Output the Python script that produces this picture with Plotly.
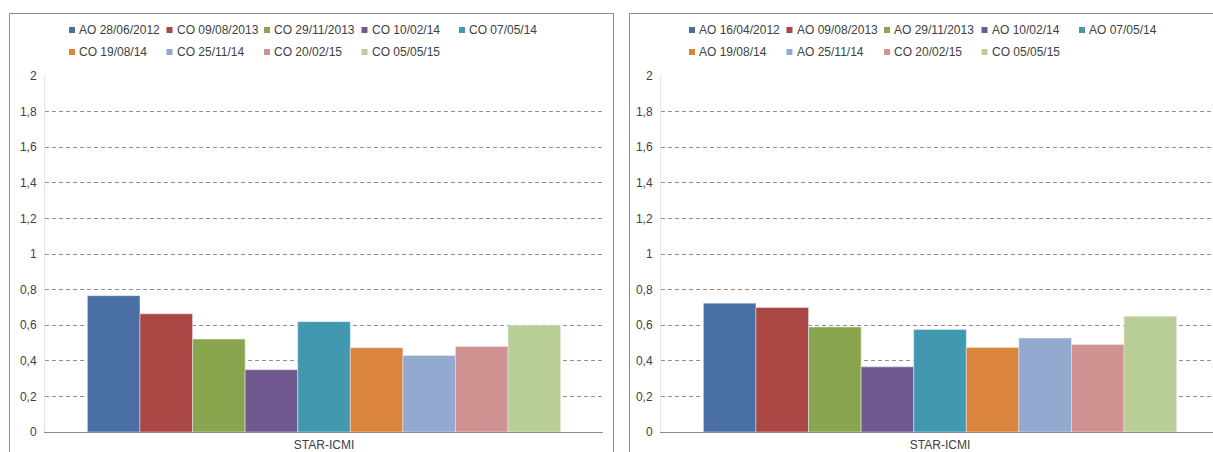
import plotly.graph_objects as go

category = ["STAR-ICMI"]

left_names = ["AO 28/06/2012", "CO 09/08/2013", "CO 29/11/2013", "CO 10/02/14", "CO 07/05/14",
              "CO 19/08/14", "CO 25/11/14", "CO 20/02/15", "CO 05/05/15"]
left_values = [0.766, 0.664, 0.522, 0.350, 0.620, 0.473, 0.430, 0.481, 0.600]

right_names = ["AO 16/04/2012", "AO 09/08/2013", "AO 29/11/2013", "AO 10/02/14", "AO 07/05/14",
               "AO 19/08/14", "AO 25/11/14", "CO 20/02/15", "CO 05/05/15"]
right_values = [0.724, 0.700, 0.590, 0.366, 0.576, 0.475, 0.528, 0.491, 0.650]

colors = ["#4A6FA5", "#AA4643", "#89A54E", "#71588F", "#4198AF",
          "#DB843D", "#93A9CF", "#D19392", "#B9CD96"]

y_ticks = [0, 0.2, 0.4, 0.6, 0.8, 1, 1.2, 1.4, 1.6, 1.8, 2]

W, H = 1213, 452
FONT = "Liberation Sans, Arial, sans-serif"
TXT = "#404040"


def px_x(p):
    return p / W


def px_y(p):
    return 1 - p / H


fig = go.Figure()
for name, val, col in zip(left_names, left_values, colors):
    fig.add_trace(go.Bar(x=category, y=[val], name=name, marker_color=col,
                         xaxis="x", yaxis="y", showlegend=False))
for name, val, col in zip(right_names, right_values, colors):
    fig.add_trace(go.Bar(x=category, y=[val], name=name, marker_color=col,
                         xaxis="x2", yaxis="y2", showlegend=False))

yax = dict(range=[0, 2], tickvals=y_ticks, showgrid=True, gridcolor="#8f8f8f",
           griddash="4px,3px", gridwidth=1, zeroline=False, showline=True,
           linecolor="#e4e4e4", ticks="", tickfont=dict(family=FONT, size=12, color=TXT),
           domain=[px_y(432), px_y(76)], ticklabelstandoff=5)
xax = dict(type="category", showgrid=False, zeroline=False, showline=True,
           linecolor="#8c8c8c", linewidth=1, ticks="", ticklabelstandoff=2,
           tickfont=dict(family=FONT, size=12, color=TXT))

# Legend drawn as small swatches + text, in two rows of an Excel-style grid
shapes = [
    dict(type="rect", xref="paper", yref="paper",
         x0=px_x(9.5), x1=px_x(613.5), y0=-0.05, y1=px_y(13.5),
         line=dict(color="#8c8c8c", width=1), fillcolor="rgba(0,0,0,0)", layer="below"),
    dict(type="rect", xref="paper", yref="paper",
         x0=px_x(629.5), x1=1.05, y0=-0.05, y1=px_y(13.5),
         line=dict(color="#8c8c8c", width=1), fillcolor="rgba(0,0,0,0)", layer="below"),
]
annotations = []
col_w = 97.5
row_y = [30, 52]
for names, x_start in ((left_names, 72), (right_names, 692)):
    for i, (name, col) in enumerate(zip(names, colors)):
        r, c = divmod(i, 5)
        cx = x_start + c * col_w
        cy = row_y[r]
        shapes.append(dict(type="rect", xref="paper", yref="paper",
                           x0=px_x(cx - 3), x1=px_x(cx + 3),
                           y0=px_y(cy + 3), y1=px_y(cy - 3),
                           fillcolor=col, line=dict(width=0)))
        annotations.append(dict(text=name, xref="paper", yref="paper",
                                x=px_x(cx + 5), y=px_y(cy), xanchor="left", yanchor="middle",
                                showarrow=False, font=dict(family=FONT, size=12, color=TXT)))

fig.update_layout(
    width=W, height=H,
    margin=dict(l=0, r=0, t=0, b=0, autoexpand=False),
    paper_bgcolor="white", plot_bgcolor="white",
    separators=",.",
    barmode="group", bargap=0.152, bargroupgap=0,
    showlegend=False,
    xaxis=dict(xax, domain=[px_x(45), px_x(603)], anchor="y", range=[-0.5, 0.5]),
    yaxis=dict(yax, anchor="x"),
    xaxis2=dict(xax, domain=[px_x(661), 1.0], anchor="y2", range=[-0.5, -0.5 + 552 / 558]),
    yaxis2=dict(yax, anchor="x2"),
    shapes=shapes,
    annotations=annotations,
)

fig.write_html("out.html",
               config={"displayModeBar": False},
               post_script="document.body.style.margin='0';document.body.style.overflow='hidden';")
